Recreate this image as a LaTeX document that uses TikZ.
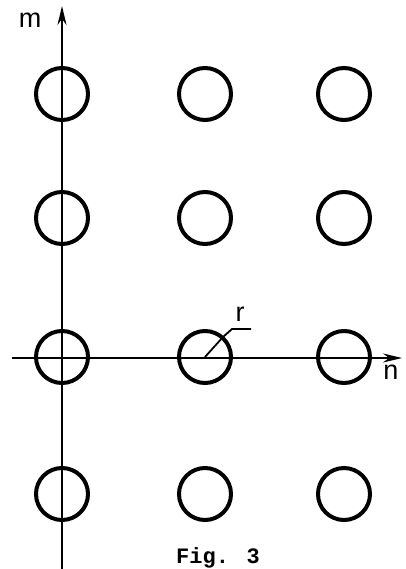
\documentclass[tikz,border=0pt]{standalone}
\usepackage{fontspec}
\setsansfont{Liberation Sans}
\newfontfamily\figfont{Liberation Mono}
\usetikzlibrary{arrows.meta}

\tikzset{
  ring/.style={draw, circle, line width=4pt, minimum size=52pt, inner sep=0pt},
  axis/.style={line width=1.9pt, -{Stealth[length=19pt, width=9pt]}},
  axislabel/.style={font=\sffamily\fontsize{27}{27}\selectfont, inner sep=0pt},
}

\begin{document}
\begin{tikzpicture}[x=1pt, y=-1pt]
    \useasboundingbox (0,0) rectangle (406,569);

    % lattice of rings
    \foreach \col/\x in {1/62, 2/205, 3/344} {
        \foreach \row/\y in {1/94, 2/218, 3/357, 4/494} {
            \node[ring] (c\row\col) at (\x,\y) {};
        }
    }

    % axes
    \coordinate (mlow) at (62,569);
    \coordinate (mtip) at (62,6);
    \coordinate (nlow) at (12,358);
    \coordinate (ntip) at (402,358);
    \draw[axis] (mlow) -- (mtip);
    \draw[axis] (nlow) -- (ntip);
    \node[axislabel] (mlab) at (30,20) {m};
    \node[axislabel] (nlab) at (391,372) {n};

    % radius
    \coordinate (rbend) at (232,329);
    \coordinate (rend) at (251,329);
    \draw[line width=1.8pt] (c32.center) -- (223,337) -- (rbend) -- (rend);
    \node[axislabel] (rlab) at (240,314) {r};

    \node[font=\figfont\bfseries\fontsize{22}{22}\selectfont, inner sep=0pt] (cap) at (218,558) {Fig. 3};
\end{tikzpicture}
\end{document}
